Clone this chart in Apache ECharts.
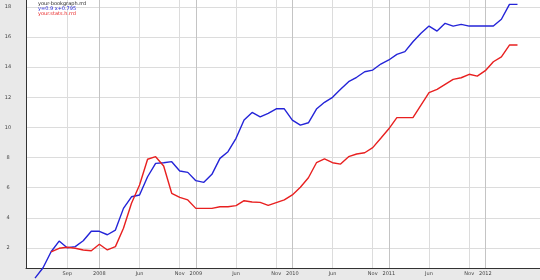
<!DOCTYPE html>
<html>
<head>
<meta charset="utf-8">
<script src="https://cdn.jsdelivr.net/npm/echarts@6/dist/echarts.min.js"></script>
<style>
html,body{margin:0;padding:0;background:#e9e9e9;}
#c{width:540px;height:280px;}
</style>
</head>
<body>
<div id="c"></div>
<script>
var months = ['2007-05','2007-06','2007-07','2007-08','2007-09','2007-10','2007-11','2007-12',
'2008-01','2008-02','2008-03','2008-04','2008-05','2008-06','2008-07','2008-08','2008-09','2008-10','2008-11','2008-12',
'2009-01','2009-02','2009-03','2009-04','2009-05','2009-06','2009-07','2009-08','2009-09','2009-10','2009-11','2009-12',
'2010-01','2010-02','2010-03','2010-04','2010-05','2010-06','2010-07','2010-08','2010-09','2010-10','2010-11','2010-12',
'2011-01','2011-02','2011-03','2011-04','2011-05','2011-06','2011-07','2011-08','2011-09','2011-10','2011-11','2011-12',
'2012-01','2012-02','2012-03','2012-04','2012-05'];
var blueValues = [0.0,0.69,1.75,2.46,2.02,2.09,2.48,3.11,3.11,2.88,3.19,4.63,5.40,5.52,6.73,7.62,7.66,7.73,7.11,7.02,
6.47,6.36,6.89,7.95,8.39,9.28,10.49,11.0,10.71,10.94,11.24,11.24,10.49,10.16,10.31,11.22,11.67,12.0,12.53,13.04,
13.33,13.70,13.81,14.21,14.48,14.85,15.03,15.69,16.25,16.73,16.40,16.91,16.73,16.84,16.73,16.73,16.73,16.73,17.18,18.17,18.17];
var redValues = [null,null,1.75,1.98,2.05,1.98,1.87,1.82,2.25,1.87,2.09,3.31,4.97,6.18,7.89,8.06,7.44,5.63,5.36,5.19,
4.63,4.63,4.63,4.74,4.74,4.81,5.14,5.05,5.03,4.83,5.01,5.19,5.52,6.03,6.66,7.66,7.91,7.66,7.57,8.06,
8.24,8.32,8.66,9.28,9.91,10.65,10.65,10.65,11.49,12.31,12.53,12.86,13.19,13.30,13.53,13.41,13.77,14.36,14.69,15.47,15.47];
var tickMonths = ['2007-09','2008-01','2008-06','2008-11','2009-01','2009-06','2009-11','2010-01','2010-06','2010-11','2011-01','2011-06','2011-11','2012-01'];
var tickLabels = ['Sep','2008','Jun','Nov','2009','Jun','Nov','2010','Jun','Nov','2011','Jun','Nov','2012'];
var yearMonths = ['2008-01','2009-01','2010-01','2011-01','2012-01'];
var yTicks = [2,4,6,8,10,12,14,16,18];
var titleText = 'your-bookgraph.rrd';
var blueName = 'y=0.9 x+0.795';
var redName = 'your.stats.h.rrd';

function mIdx(s){var p=s.split('-');return (+p[0])*12+(+p[1]-1);}
var tickVals = tickMonths.map(mIdx);
var yearVals = yearMonths.map(mIdx);
var start = mIdx(months[0]);
var xMin = start - 1.12, xMax = start + 62.8;
function pairs(vals){return months.map(function(m,i){return [mIdx(m), vals[i]];});}

var chart = echarts.init(document.getElementById('c'));
chart.setOption({
  animation:false,
  backgroundColor:'#e9e9e9',
  title:{text:titleText,left:38,top:1,padding:0,textStyle:{fontSize:5,fontWeight:'normal',color:'#222',fontFamily:'DejaVu Sans'}},
  legend:{show:true,orient:'vertical',left:33,top:6,padding:0,itemGap:0.5,itemWidth:0,itemHeight:5,icon:'none',
    textStyle:{fontSize:5,fontFamily:'DejaVu Sans',padding:0},
    data:[{name:blueName,textStyle:{color:'#2424d8'}},{name:redName,textStyle:{color:'#e82020'}}]},
  grid:{left:26,right:0,top:0,bottom:12,show:true,backgroundColor:'#ffffff',borderWidth:0},
  xAxis:[{
    type:'value',min:xMin,max:xMax,
    axisLine:{show:true,onZero:false,lineStyle:{color:'#333',width:1}},
    axisTick:{show:false,customValues:tickVals},
    axisLabel:{customValues:tickVals,fontSize:5,color:'#444',margin:3,fontFamily:'DejaVu Sans',
      formatter:function(v){var i=tickVals.indexOf(Math.round(v));return i>=0?tickLabels[i]:'';}},
    splitLine:{show:true,lineStyle:{color:'#dcdcdc',width:1}}
  },{
    type:'value',min:xMin,max:xMax,position:'bottom',
    axisLine:{show:false},axisTick:{show:false,customValues:yearVals},
    axisLabel:{show:false,customValues:yearVals},
    splitLine:{show:true,lineStyle:{color:'#c4c4c4',width:1}}
  }],
  yAxis:{
    type:'value',min:0.673,max:18.46,
    axisLine:{show:true,onZero:false,lineStyle:{color:'#333',width:1}},
    axisTick:{show:false,customValues:yTicks},
    axisLabel:{customValues:yTicks,fontSize:5,color:'#444',align:'center',margin:18,fontFamily:'DejaVu Sans'},
    splitLine:{show:true,lineStyle:{color:'#dcdcdc',width:1}}
  },
  series:[
    {name:blueName,type:'line',data:pairs(blueValues),showSymbol:false,clip:false,
      lineStyle:{color:'#2424d8',width:1.4},itemStyle:{color:'#2424d8'}},
    {name:redName,type:'line',data:pairs(redValues),showSymbol:false,clip:false,connectNulls:false,
      lineStyle:{color:'#e82020',width:1.4},itemStyle:{color:'#e82020'}}
  ]
});
</script>
</body>
</html>
